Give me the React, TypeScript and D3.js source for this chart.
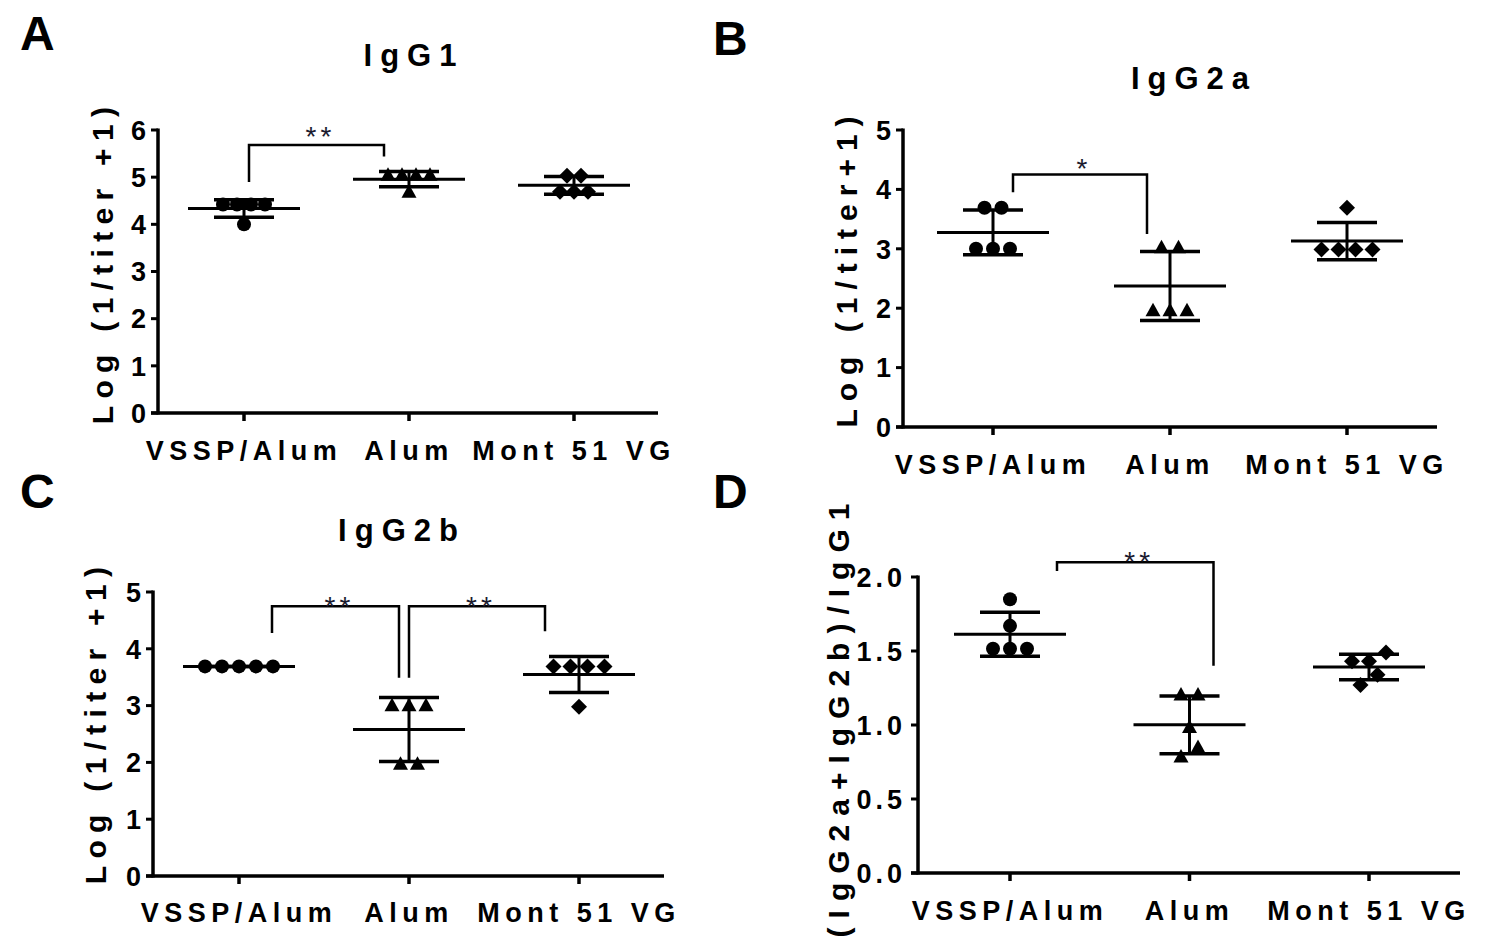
import React from 'react';
import * as d3 from 'd3';

// ---------- Data ----------
const categories = ['VSSP/Alum', 'Alum', 'Mont 51 VG'];

// Panel A: IgG1
const igg1VSSP = [4.42, 4.42, 4.42, 4.42, 4.0];
const igg1Alum = [5.03, 5.03, 5.03, 5.03, 4.67];
const igg1Mont = [5.03, 5.03, 4.69, 4.69, 4.69];

// Panel B: IgG2a
const igg2aVSSP = [3.69, 3.69, 3.0, 3.0, 3.0];
const igg2aAlum = [3.01, 3.01, 1.95, 1.95, 1.95];
const igg2aMont = [3.69, 2.99, 2.99, 2.99, 2.99];

// Panel C: IgG2b
const igg2bVSSP = [3.69, 3.69, 3.69, 3.69, 3.69];
const igg2bAlum = [2.99, 2.99, 2.99, 1.96, 1.96];
const igg2bMont = [3.69, 3.69, 3.69, 3.69, 2.98];

// Panel D: (IgG2a+IgG2b)/IgG1
const ratioVSSP = [1.85, 1.67, 1.515, 1.515, 1.515];
const ratioAlum = [1.2, 1.2, 0.98, 0.845, 0.78];
const ratioMont = [1.49, 1.43, 1.43, 1.34, 1.27];

const ticksA = [0, 1, 2, 3, 4, 5, 6];
const ticksBC = [0, 1, 2, 3, 4, 5];
const ticksD = [0, 0.5, 1.0, 1.5, 2.0];

// ---------- Layout / style ----------
type Bracket = {
  a: number; b: number; // category indices
  ax: number; bx: number; // pixel offsets from category centres
  aBottom: number; bBottom: number; top: number; // values
  label: string; labelOff: number;
};

type PanelCfg = {
  letter: string; letterPos: [number, number];
  title: string; titlePos: [number, number];
  yLabel: string; yLabelPos: [number, number]; yLabelSpacing: number;
  domain: [number, number]; ticks: number[]; fmt: (v: number) => string; tickSpacing: number;
  axisX: [number, number]; axisY: [number, number];
  cats: [number, number]; xLabelY: number;
  groups: number[][];
  brackets: Bracket[];
  spread: number;
};

const FONT = "'Liberation Sans', Arial, Helvetica, sans-serif";

const panels: PanelCfg[] = [
  {
    letter: 'A', letterPos: [20, 50],
    title: 'IgG1', titlePos: [414, 66],
    yLabel: 'Log (1/titer +1)', yLabelPos: [113, 262], yLabelSpacing: 7.3,
    domain: [0, 6], ticks: ticksA, fmt: d3.format('d'), tickSpacing: 0,
    axisX: [158, 658], axisY: [413, 130],
    cats: [244, 574], xLabelY: 460,
    groups: [igg1VSSP, igg1Alum, igg1Mont],
    brackets: [{ a: 0, b: 1, ax: 5, bx: -25, aBottom: 4.9, bBottom: 5.44, top: 5.68, label: '**', labelOff: -14 }],
    spread: 14,
  },
  {
    letter: 'B', letterPos: [713, 55],
    title: 'IgG2a', titlePos: [1194, 89],
    yLabel: 'Log (1/titer+1)', yLabelPos: [857, 268], yLabelSpacing: 8,
    domain: [0, 5], ticks: ticksBC, fmt: d3.format('d'), tickSpacing: 0,
    axisX: [903, 1437], axisY: [427, 130],
    cats: [993, 1347], xLabelY: 474,
    groups: [igg2aVSSP, igg2aAlum, igg2aMont],
    brackets: [{ a: 0, b: 1, ax: 20, bx: -23, aBottom: 3.95, bBottom: 3.25, top: 4.25, label: '*', labelOff: -12 }],
    spread: 17,
  },
  {
    letter: 'C', letterPos: [20, 508],
    title: 'IgG2b', titlePos: [402, 541],
    yLabel: 'Log (1/titer +1)', yLabelPos: [106, 722], yLabelSpacing: 7.3,
    domain: [0, 5], ticks: ticksBC, fmt: d3.format('d'), tickSpacing: 0,
    axisX: [153, 664], axisY: [876, 592],
    cats: [239, 579], xLabelY: 922,
    groups: [igg2bVSSP, igg2bAlum, igg2bMont],
    brackets: [
      { a: 0, b: 1, ax: 33, bx: -10, aBottom: 4.28, bBottom: 3.49, top: 4.75, label: '**', labelOff: -5 },
      { a: 1, b: 2, ax: 0, bx: -34, aBottom: 3.49, bBottom: 4.31, top: 4.75, label: '**', labelOff: -5 },
    ],
    spread: 17,
  },
  {
    letter: 'D', letterPos: [713, 508],
    title: '', titlePos: [0, 0],
    yLabel: '(IgG2a+IgG2b)/IgG1', yLabelPos: [849, 716], yLabelSpacing: 9,
    domain: [0, 2], ticks: ticksD, fmt: d3.format('.1f'), tickSpacing: 4,
    axisX: [918, 1460], axisY: [873, 577],
    cats: [1010, 1369], xLabelY: 920,
    groups: [ratioVSSP, ratioAlum, ratioMont],
    brackets: [{ a: 0, b: 1, ax: 47, bx: 24, aBottom: 2.04, bBottom: 1.4, top: 2.1, label: '**', labelOff: -6 }],
    spread: 17,
  },
];

// symbol paths
const circlePath = d3.symbol().type(d3.symbolCircle).size(Math.PI * 7 * 7)() as string;
const trianglePath = 'M0,-8.5L7.5,5L-7.5,5Z';
const diamondPath = 'M0,-8L8,0L0,8L-8,0Z';
const markerPaths = [circlePath, trianglePath, diamondPath];

function layoutPoints(values: number[], y: (v: number) => number, spread: number) {
  const items = values.map((v, i) => ({ v, i, py: y(v) })).sort((a, b) => a.v - b.v);
  const clusters: typeof items[] = [];
  let cur: typeof items = [];
  items.forEach((it, k) => {
    if (k === 0 || Math.abs(it.py - items[k - 1].py) < 12) cur.push(it);
    else { clusters.push(cur); cur = [it]; }
  });
  if (cur.length) clusters.push(cur);
  const out: { v: number; dx: number }[] = [];
  clusters.forEach(c => {
    c.forEach((it, k) => out.push({ v: it.v, dx: (k - (c.length - 1) / 2) * spread }));
  });
  return out;
}

const Panel: React.FC<{ cfg: PanelCfg }> = ({ cfg }) => {
  const y = d3.scaleLinear().domain(cfg.domain).range(cfg.axisY);
  const x = d3.scalePoint<string>().domain(categories).range(cfg.cats);
  const [ax0, ax1] = cfg.axisX;
  const yBase = cfg.axisY[0];
  const meanHalf = 56;
  const capHalf = 30;
  return (
    <g>
      <text x={cfg.letterPos[0]} y={cfg.letterPos[1]} fontSize={48} fontWeight="bold" fontFamily={FONT}>{cfg.letter}</text>
      {cfg.title && (
        <text x={cfg.titlePos[0]} y={cfg.titlePos[1]} textAnchor="middle" fontSize={31} fontWeight="bold"
          fontFamily={FONT} style={{ letterSpacing: '8px' }}>{cfg.title}</text>
      )}
      <text transform={`translate(${cfg.yLabelPos[0]},${cfg.yLabelPos[1]}) rotate(-90)`} textAnchor="middle"
        fontSize={30} fontWeight="bold" fontFamily={FONT} style={{ letterSpacing: `${cfg.yLabelSpacing}px` }}>{cfg.yLabel}</text>

      {/* axes */}
      <line x1={ax0} x2={ax0} y1={cfg.axisY[1] - 1.5} y2={yBase + 1.5} stroke="#000" strokeWidth={3.5} />
      <line x1={ax0 - 7} x2={ax1} y1={yBase} y2={yBase} stroke="#000" strokeWidth={3.5} />
      {cfg.ticks.map(t => (
        <g key={t}>
          <line x1={ax0 - 7} x2={ax0} y1={y(t)} y2={y(t)} stroke="#000" strokeWidth={3} />
          <text x={ax0 - 12} y={y(t)} dy="0.36em" textAnchor="end" fontSize={27} fontWeight="bold"
            fontFamily={FONT} style={{ letterSpacing: `${cfg.tickSpacing}px` }}>{cfg.fmt(t)}</text>
        </g>
      ))}
      {categories.map(c => (
        <g key={c}>
          <line x1={x(c)!} x2={x(c)!} y1={yBase} y2={yBase + 8} stroke="#000" strokeWidth={3.5} />
          <text x={x(c)!} y={cfg.xLabelY} textAnchor="middle" fontSize={27} fontWeight="bold"
            fontFamily={FONT} style={{ letterSpacing: '5.5px' }}>{c}</text>
        </g>
      ))}

      {/* points, mean, SD */}
      {cfg.groups.map((vals, gi) => {
        const cx = x(categories[gi])!;
        const m = d3.mean(vals)!;
        const sd = d3.deviation(vals) || 0;
        const pts = layoutPoints(vals, y, cfg.spread);
        return (
          <g key={gi}>
            {pts.map((p, k) => (
              <path key={k} d={markerPaths[gi]} transform={`translate(${cx + p.dx},${y(p.v)})`} fill="#000" />
            ))}
            <line x1={cx} x2={cx} y1={y(m + sd)} y2={y(m - sd)} stroke="#000" strokeWidth={3} />
            <line x1={cx - capHalf} x2={cx + capHalf} y1={y(m + sd)} y2={y(m + sd)} stroke="#000" strokeWidth={3.5} />
            <line x1={cx - capHalf} x2={cx + capHalf} y1={y(m - sd)} y2={y(m - sd)} stroke="#000" strokeWidth={3.5} />
            <line x1={cx - meanHalf} x2={cx + meanHalf} y1={y(m)} y2={y(m)} stroke="#000" strokeWidth={3} />
          </g>
        );
      })}

      {/* significance brackets */}
      {cfg.brackets.map((b, bi) => {
        const xa = x(categories[b.a])! + b.ax;
        const xb = x(categories[b.b])! + b.bx;
        const yt = y(b.top);
        return (
          <g key={bi}>
            <path d={`M${xa},${y(b.aBottom)}V${yt}H${xb}V${y(b.bBottom)}`} fill="none" stroke="#000" strokeWidth={2.5} />
            <text x={(xa + xb) / 2 + 4} y={yt + b.labelOff + 15} textAnchor="middle" fontSize={28} fontFamily={FONT}
              fill="#1a1a2e" style={{ letterSpacing: '4px' }}>{b.label}</text>
          </g>
        );
      })}
    </g>
  );
};

export default function App() {
  return (
    <svg width={1500} height={950} style={{ position: 'absolute', left: 0, top: 0, background: '#fff' }}>
      <rect width={1500} height={950} fill="#fff" />
      {panels.map((p, i) => <Panel key={i} cfg={p} />)}
    </svg>
  );
}
